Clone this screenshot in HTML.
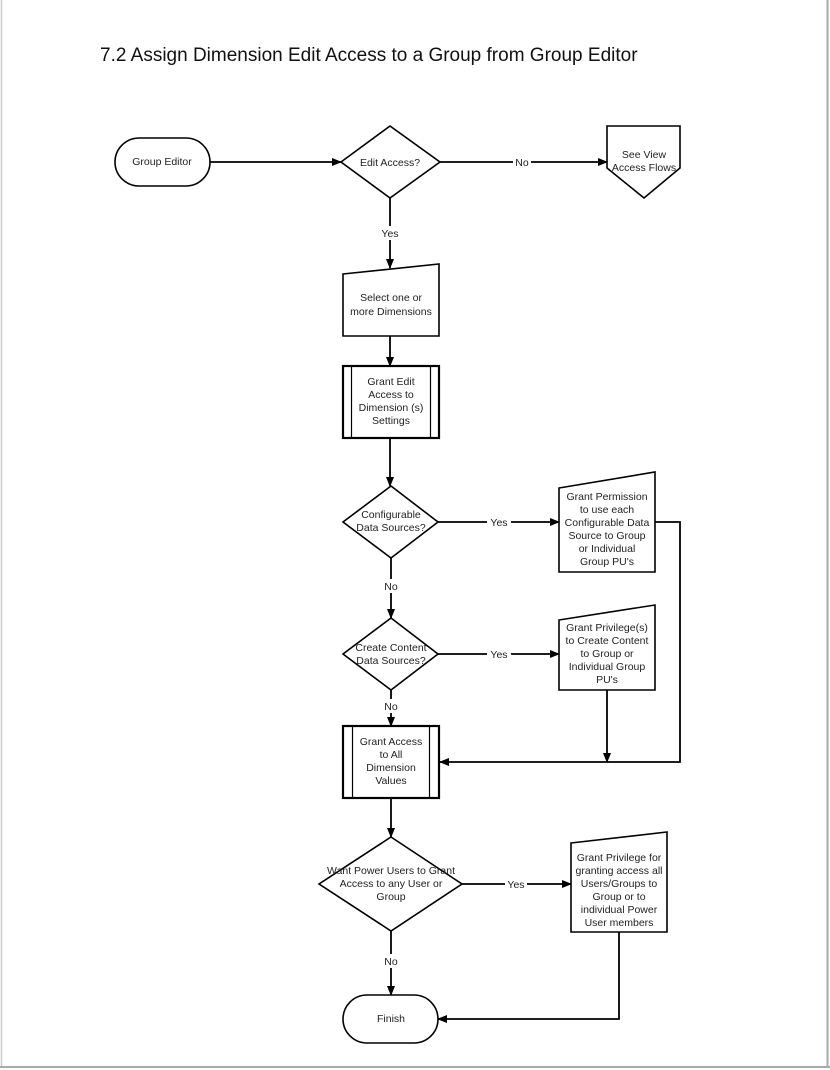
<!DOCTYPE html>
<html><head><meta charset="utf-8"><style>
html,body{margin:0;padding:0;background:#fff}
svg{display:block}
text{font-family:"Liberation Sans",sans-serif;font-size:10.5px;fill:#222;text-anchor:middle}
</style></head><body>
<svg width="830" height="1070" viewBox="0 0 830 1070" xmlns="http://www.w3.org/2000/svg">
<defs><marker id="a" markerWidth="10" markerHeight="8" refX="9" refY="4" orient="auto" markerUnits="userSpaceOnUse"><path d="M0,0 L10,4 L0,8 z" fill="#000"/></marker></defs>
<rect x="0" y="0" width="830" height="1070" fill="#fff"/>
<line x1="1.5" y1="0" x2="1.5" y2="1068" stroke="#ccc" stroke-width="1.5"/>
<line x1="827.5" y1="0" x2="827.5" y2="1068" stroke="#aaa" stroke-width="2"/>
<line x1="0" y1="1067" x2="830" y2="1067" stroke="#aaa" stroke-width="2"/>
<text x="100" y="61" style="font-size:19px;text-anchor:start;fill:#111">7.2  Assign Dimension Edit Access to a Group from Group Editor</text>
<g fill="#fff" stroke="#000" stroke-width="1.6">
<rect x="115" y="138" width="95" height="48" rx="24"/>
<polygon points="390,126 440,162 390,198 341,162"/>
<polygon points="607,126 680,126 680,168 644,198 607,168"/>
<polygon points="343,274 439,264 439,336 343,336"/>
<rect x="343" y="366" width="96" height="72" stroke-width="2.2"/>
<polygon points="391,486 438,522 391,558 343,522"/>
<polygon points="559,488 655,472 655,572 559,572"/>
<polygon points="391,618 438,654 391,690 343,654"/>
<polygon points="559,620 655,605 655,690 559,690"/>
<rect x="343" y="726" width="96" height="72" stroke-width="2.2"/>
<polygon points="391,837 462,884 391,931 319,884"/>
<polygon points="571,843 667,832 667,932 571,932"/>
<rect x="343" y="995" width="95" height="48" rx="24"/>
</g>
<g stroke="#000" stroke-width="1.2">
<line x1="351.5" y1="366" x2="351.5" y2="438"/><line x1="430.5" y1="366" x2="430.5" y2="438"/>
<line x1="352.5" y1="726" x2="352.5" y2="798"/><line x1="429.5" y1="726" x2="429.5" y2="798"/>
</g>
<g fill="none" stroke="#000" stroke-width="1.8">
<line x1="210" y1="162" x2="341" y2="162" marker-end="url(#a)"/>
<line x1="440" y1="162" x2="607" y2="162" marker-end="url(#a)"/>
<line x1="390" y1="198" x2="390" y2="268" marker-end="url(#a)"/>
<line x1="390" y1="336" x2="390" y2="366" marker-end="url(#a)"/>
<line x1="390" y1="438" x2="390" y2="486" marker-end="url(#a)"/>
<line x1="438" y1="522" x2="559" y2="522" marker-end="url(#a)"/>
<polyline points="655,522 680,522 680,762 440,762" marker-end="url(#a)"/>
<line x1="391" y1="558" x2="391" y2="618" marker-end="url(#a)"/>
<line x1="438" y1="654" x2="559" y2="654" marker-end="url(#a)"/>
<line x1="607" y1="690" x2="607" y2="762" marker-end="url(#a)"/>
<line x1="391" y1="690" x2="391" y2="726" marker-end="url(#a)"/>
<line x1="391" y1="798" x2="391" y2="837" marker-end="url(#a)"/>
<line x1="462" y1="884" x2="571" y2="884" marker-end="url(#a)"/>
<line x1="391" y1="931" x2="391" y2="995" marker-end="url(#a)"/>
<polyline points="619,932 619,1019 438,1019" marker-end="url(#a)"/>
</g>
<g fill="#fff">
<rect x="513" y="155" width="18" height="13"/>
<rect x="378" y="226" width="24" height="14"/>
<rect x="487" y="515" width="24" height="13"/>
<rect x="381" y="579" width="20" height="14"/>
<rect x="487" y="647" width="24" height="13"/>
<rect x="381" y="699" width="20" height="14"/>
<rect x="505" y="877" width="22" height="13"/>
<rect x="381" y="954" width="20" height="14"/>
</g>
<text x="162" y="165">Group Editor</text>
<text x="390" y="166">Edit Access?</text>
<text x="522" y="166">No</text>
<text x="644" y="158">See View</text><text x="644" y="171">Access Flows</text>
<text x="390" y="237">Yes</text>
<text x="391" y="301">Select one or</text><text x="391" y="315">more Dimensions</text>
<text x="391" y="385">Grant Edit</text><text x="391" y="398">Access to</text><text x="391" y="411">Dimension (s)</text><text x="391" y="424">Settings</text>
<text x="391" y="518">Configurable</text><text x="391" y="531">Data Sources?</text>
<text x="499" y="526">Yes</text>
<text x="607" y="500">Grant Permission</text><text x="607" y="513">to use each</text><text x="607" y="526">Configurable Data</text><text x="607" y="539">Source to Group</text><text x="607" y="552">or Individual</text><text x="607" y="565">Group PU's</text>
<text x="391" y="590">No</text>
<text x="391" y="651">Create Content</text><text x="391" y="664">Data Sources?</text>
<text x="499" y="658">Yes</text>
<text x="607" y="631">Grant Privilege(s)</text><text x="607" y="644">to Create Content</text><text x="607" y="657">to Group or</text><text x="607" y="670">Individual Group</text><text x="607" y="683">PU's</text>
<text x="391" y="710">No</text>
<text x="391" y="745">Grant Access</text><text x="391" y="758">to All</text><text x="391" y="771">Dimension</text><text x="391" y="784">Values</text>
<text x="391" y="874">Want Power Users to Grant</text><text x="391" y="887">Access to any User or</text><text x="391" y="900">Group</text>
<text x="516" y="888">Yes</text>
<text x="619" y="861">Grant Privilege for</text><text x="619" y="874">granting access all</text><text x="619" y="887">Users/Groups to</text><text x="619" y="900">Group or to</text><text x="619" y="913">individual Power</text><text x="619" y="926">User members</text>
<text x="391" y="965">No</text>
<text x="391" y="1022">Finish</text>
</svg>
</body></html>
